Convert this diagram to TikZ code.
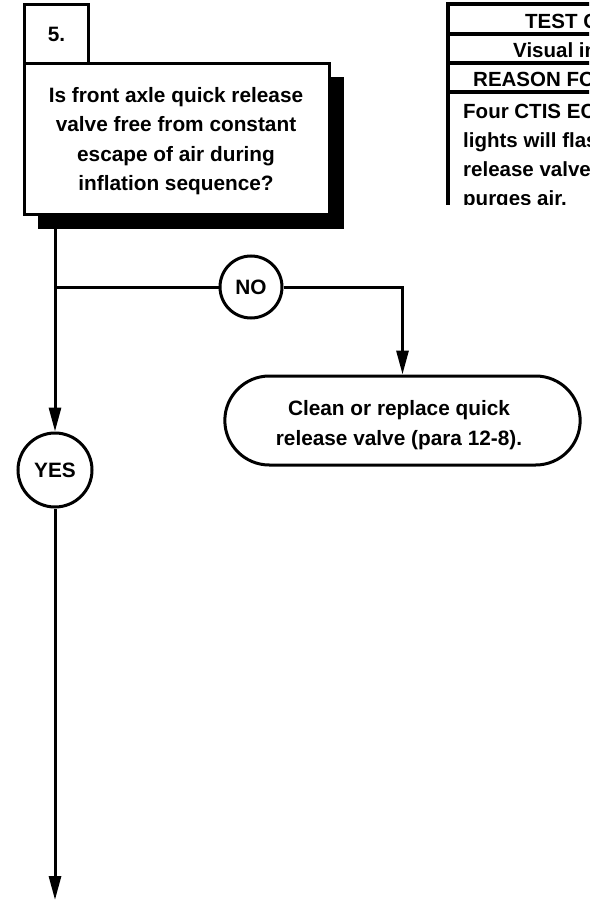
\documentclass[tikz,border=0pt]{standalone}
\usepackage{fontspec}
\setmainfont{Liberation Sans}
\usetikzlibrary{arrows.meta,shapes.misc,shapes.geometric}
\tikzset{
  ln/.style={line width=3pt},
  arr/.style={ln,-{Triangle[length=24pt,width=12pt]}},
  qbox/.style={draw,ln,fill=white,inner sep=0pt,align=center,anchor=north west},
  ans/.style={draw,ln,circle,inner sep=0pt,fill=white},
  txt/.style={font=\fontsize{20.8}{29.5}\selectfont\bfseries},
  tabtxt/.style={font=\fontsize{20.5}{24}\selectfont\bfseries,anchor=base west,inner sep=0pt},
}
\begin{document}
\begin{tikzpicture}[x=1pt,y=-1pt]
\useasboundingbox (0,0) rectangle (589,901);
% shadow and question box
\node[fill=black,inner sep=0pt,minimum width=306pt,minimum height=152pt,anchor=north west] (sh) at (38,77) {};
\node[qbox,minimum width=64pt,minimum height=60pt,txt] (num) at (23,3) {5.};
\node[qbox,minimum width=305pt,minimum height=151pt] (q) at (23,62) {};
\node[txt,align=center,inner sep=0pt] (qt) at (176,141)
  {Is front axle quick release\\valve free from constant\\escape of air during\\inflation sequence?};
% answers
\node[ans,minimum size=62pt,txt] (no) at (251,287) {NO};
\node[ans,minimum size=74pt,txt] (yes) at (55,470) {YES};
\node[draw,ln,rounded rectangle,minimum width=362pt,minimum height=89pt] (fix) at (402.5,420.5) {};
\node[txt,align=center,inner sep=0pt] (fixt) at (399,425)
  {Clean or replace quick\\release valve (para 12-8).};
\coordinate (j) at (yes.north |- no.west);
\coordinate (end) at (55,900);
% connectors
\draw[arr] (yes.north |- sh.south) -- (yes.north);
\draw[ln] (j) -- (no.west);
\draw[arr] (no.east) -| (fix.north);
\draw[arr] (yes.south) -- (end);
% table (cut off at the right and below)
\begin{scope}
\clip (440,0) rectangle (589,205);
\draw[line width=3.5pt] (448,210) -- (448,4) -- (600,4);
\draw[line width=3.5pt] (448,34) -- (600,34);
\draw[line width=3.5pt] (448,63) -- (600,63);
\draw[line width=3.5pt] (448,92) -- (600,92);
\node[tabtxt] (t1) at (525,29) {TEST CO};
\node[tabtxt] (t2) at (513,58) {Visual in};
\node[tabtxt] (t3) at (473,87) {REASON FOR};
\node[tabtxt] (b1) at (463,119) {Four CTIS ECU};
\node[tabtxt] (b2) at (463,148) {lights will flash};
\node[tabtxt] (b3) at (463,177) {release valve};
\node[tabtxt] (b4) at (463,206) {purges air.};
\end{scope}
\end{tikzpicture}
\end{document}
